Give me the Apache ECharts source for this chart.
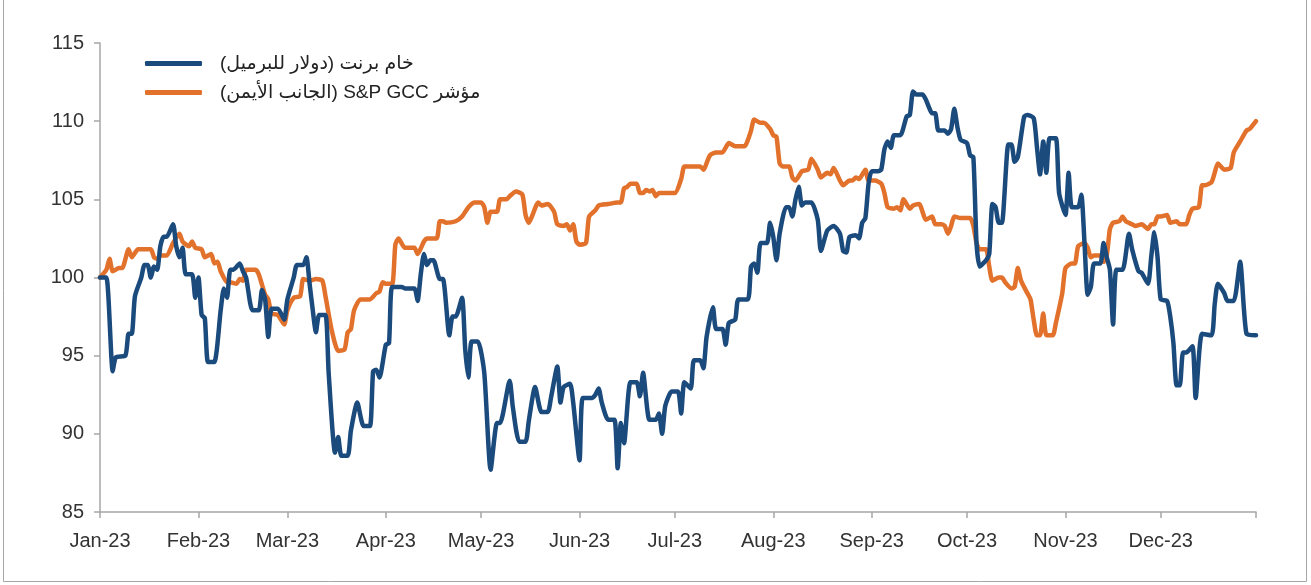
<!DOCTYPE html>
<html>
<head>
<meta charset="utf-8">
<script src="https://cdn.jsdelivr.net/npm/echarts@6/dist/echarts.min.js"></script>
<style>
html, body { margin: 0; padding: 0; background: #fff; }
#chart { width: 1311px; height: 585px; }
</style>
</head>
<body>
<div id="chart"></div>
<script>
// series names (Arabic, shown right-to-left)
var brentName = 'خام برنت (دولار للبرميل)';
var gccName = 'مؤشر S&P GCC (الجانب الأيمن)';

var monthLabels = ['Jan-23', 'Feb-23', 'Mar-23', 'Apr-23', 'May-23', 'Jun-23',
    'Jul-23', 'Aug-23', 'Sep-23', 'Oct-23', 'Nov-23', 'Dec-23'];

// day of 2023 (0 = 1 Jan) and rebased value
var brentDays = [0, 2, 4, 5, 8, 9, 10, 11, 13, 14, 15, 16, 17, 18, 19, 20, 21, 23, 24, 25, 26, 27, 29, 30, 31, 32, 33, 34, 36, 38,
    39, 40, 41, 42, 44, 45, 46, 48, 50, 51, 52, 53, 54, 56, 58, 59, 61, 62, 64, 65, 66, 67, 68, 69, 71, 72, 74, 75, 76, 78,
    79, 81, 83, 85, 86, 87, 88, 90, 91, 92, 95, 96, 99, 100, 101, 102, 103, 104, 105, 107, 108, 110, 111, 112, 114, 115, 116, 117, 119, 121,
    123, 125, 126, 129, 130, 132, 134, 135, 137, 139, 141, 142, 144, 145, 146, 148, 149, 151, 152, 155, 156, 157, 158, 160, 162, 163, 164, 165, 167, 169,
    170, 171, 173, 175, 176, 177, 178, 180, 182, 183, 184, 186, 187, 189, 190, 191, 193, 194, 196, 197, 198, 200, 201, 204, 205, 206, 207, 208, 210, 211,
    212, 213, 214, 216, 217, 218, 219, 220, 221, 222, 224, 226, 227, 229, 231, 233, 234, 235, 236, 238, 239, 240, 241, 242, 243, 245, 246, 247, 248, 249,
    250, 252, 254, 255, 256, 257, 259, 260, 261, 262, 263, 264, 266, 267, 268, 269, 270, 271, 273, 274, 275, 276, 277, 279, 280, 281, 282, 283, 284, 286,
    287, 288, 289, 291, 292, 294, 295, 296, 297, 298, 299, 301, 302, 304, 305, 306, 308, 309, 310, 311, 312, 313, 315, 316, 317, 318, 319, 320, 322, 324,
    325, 327, 328, 330, 331, 332, 333, 334, 336, 337, 338, 339, 340, 341, 342, 344, 345, 347, 350, 351, 352, 354, 355, 357, 359, 361, 364];
var brentValues = [100.0, 100.0, 94.0, 94.9, 95.0, 96.4, 96.4, 98.8, 100.0, 100.8, 100.8, 100.0, 100.7, 100.5, 102.0, 102.6, 102.6, 103.4, 102.0, 101.3, 101.9, 100.2, 100.2, 98.7, 100.0, 97.6, 97.4, 94.6, 94.6, 97.9,
    99.3, 98.7, 100.5, 100.5, 100.9, 100.4, 100.0, 97.9, 97.9, 99.2, 98.6, 96.2, 98.0, 98.0, 97.3, 98.6, 100.0, 100.8, 100.8, 101.3, 99.6, 97.9, 96.5, 97.6, 97.6, 93.9, 88.8, 89.8, 88.6, 88.6,
    90.2, 92.0, 90.5, 90.5, 94.0, 94.1, 93.6, 95.7, 95.8, 99.4, 99.4, 99.3, 99.3, 98.5, 100.2, 101.5, 100.8, 101.1, 101.1, 99.9, 99.9, 96.3, 97.5, 97.5, 98.7, 95.4, 93.6, 95.9, 95.9, 93.9,
    87.7, 90.7, 90.7, 93.4, 91.7, 89.5, 89.5, 90.8, 93.0, 91.4, 91.4, 92.3, 94.3, 92.0, 93.0, 93.2, 92.0, 88.3, 92.3, 92.3, 92.5, 92.9, 92.0, 90.9, 90.9, 87.8, 90.7, 89.4, 93.3, 93.3,
    92.4, 93.9, 90.9, 90.9, 91.3, 90.0, 91.8, 92.7, 92.7, 91.3, 93.3, 92.9, 94.7, 94.7, 94.2, 96.2, 98.1, 96.7, 96.7, 95.7, 97.1, 97.3, 98.6, 98.6, 100.7, 100.9, 100.3, 102.2, 102.2, 103.5,
    102.6, 101.1, 102.8, 104.5, 104.5, 103.9, 105.0, 105.8, 104.6, 104.8, 104.8, 103.7, 101.7, 103.0, 103.3, 102.8, 101.7, 101.6, 102.6, 102.7, 102.5, 103.5, 103.8, 106.0, 106.8, 106.8, 106.9, 108.2, 108.7, 108.3,
    109.1, 109.1, 110.3, 110.4, 111.9, 111.7, 111.7, 111.4, 110.9, 110.5, 110.5, 109.4, 109.4, 109.2, 109.5, 110.8, 109.6, 108.8, 108.6, 107.8, 107.7, 102.2, 100.7, 101.1, 101.5, 104.7, 104.5, 103.5, 103.5, 108.5,
    108.5, 107.4, 107.7, 110.3, 110.4, 110.2, 108.4, 106.6, 108.7, 106.7, 108.9, 108.9, 105.4, 104.0, 106.7, 104.5, 104.5, 105.3, 102.2, 98.9, 99.4, 100.9, 100.9, 102.2, 101.3, 100.5, 97.0, 100.5, 100.5, 102.8,
    101.8, 100.4, 100.3, 99.6, 101.3, 102.9, 101.3, 98.6, 98.5, 97.5, 95.8, 93.1, 93.1, 95.2, 95.2, 95.6, 92.3, 96.4, 96.3, 98.3, 99.6, 99.0, 98.5, 98.5, 101.0, 96.4, 96.3];

var gccDays = [0, 2, 3, 4, 6, 7, 9, 10, 12, 16, 17, 18, 19, 21, 23, 25, 26, 28, 29, 30, 32, 33, 35, 36, 37, 38, 40, 41, 43, 44,
    45, 46, 49, 50, 52, 53, 54, 56, 58, 59, 61, 63, 64, 66, 68, 70, 71, 73, 75, 77, 78, 79, 80, 82, 85, 87, 88, 89, 90, 92,
    93, 94, 96, 99, 100, 102, 103, 106, 107, 108, 109, 112, 114, 116, 118, 120, 121, 122, 123, 125, 126, 128, 129, 131, 133, 134, 135, 136, 138, 139,
    141, 143, 144, 146, 147, 148, 149, 150, 151, 153, 154, 156, 157, 160, 163, 164, 165, 166, 167, 169, 170, 171, 172, 173, 174, 175, 176, 181, 183, 184,
    186, 189, 190, 192, 194, 196, 197, 198, 200, 203, 204, 205, 206, 208, 209, 211, 212, 213, 214, 215, 217, 218, 219, 221, 223, 224, 226, 227, 229, 230,
    231, 233, 234, 236, 237, 238, 239, 241, 242, 244, 246, 247, 248, 250, 251, 252, 253, 255, 256, 258, 259, 260, 262, 263, 265, 266, 267, 268, 269, 271,
    274, 275, 276, 277, 279, 280, 281, 283, 284, 285, 287, 288, 289, 290, 292, 293, 294, 295, 296, 297, 298, 300, 301, 303, 304, 306, 307, 308, 310, 311,
    312, 313, 315, 316, 317, 318, 319, 321, 322, 323, 325, 326, 328, 330, 331, 332, 333, 334, 336, 337, 339, 340, 342, 343, 344, 346, 347, 348, 350, 351,
    352, 354, 356, 357, 359, 361, 362, 364];
var gccValues = [100.0, 100.5, 101.2, 100.4, 100.6, 100.6, 101.8, 101.3, 101.8, 101.8, 101.3, 101.2, 101.4, 101.4, 102.2, 102.8, 102.3, 102.0, 102.3, 101.9, 101.8, 101.3, 101.5, 100.9, 101.0, 100.4, 99.7, 99.7, 99.6, 99.9,
    99.8, 100.5, 100.5, 100.2, 98.9, 98.6, 97.7, 97.6, 97.0, 97.9, 98.7, 98.8, 99.9, 99.8, 99.9, 99.8, 98.8, 96.6, 95.3, 95.4, 96.5, 96.7, 97.9, 98.6, 98.6, 99.0, 99.1, 99.7, 99.6, 99.6,
    102.1, 102.5, 101.9, 101.9, 101.5, 102.3, 102.5, 102.5, 103.6, 103.6, 103.5, 103.6, 103.9, 104.5, 104.8, 104.8, 104.5, 103.5, 104.2, 104.2, 105.0, 105.0, 105.2, 105.5, 105.3, 104.0, 103.5, 103.9, 104.8, 104.6,
    104.7, 104.2, 103.4, 103.3, 103.4, 103.0, 103.4, 102.3, 102.1, 102.2, 103.9, 104.3, 104.6, 104.7, 104.8, 104.8, 105.7, 105.8, 106.0, 106.0, 105.4, 105.4, 105.6, 105.5, 105.6, 105.2, 105.4, 105.4, 106.3, 107.1,
    107.1, 107.1, 106.9, 107.8, 108.0, 108.0, 108.3, 108.6, 108.4, 108.4, 108.8, 109.4, 110.1, 109.9, 109.9, 109.5, 109.1, 109.0, 107.3, 107.1, 107.1, 106.4, 106.2, 106.8, 106.9, 107.6, 106.9, 106.4, 106.7, 106.6,
    107.0, 106.2, 105.9, 106.2, 106.2, 106.4, 106.3, 106.9, 106.2, 106.2, 106.0, 105.4, 104.5, 104.4, 104.5, 104.3, 105.0, 104.4, 104.6, 104.7, 104.2, 103.7, 103.9, 103.4, 103.4, 103.3, 102.8, 103.3, 103.9, 103.8,
    103.8, 103.3, 102.2, 101.8, 101.8, 100.7, 99.8, 100.0, 100.0, 99.7, 99.3, 99.4, 100.6, 99.8, 99.0, 98.6, 97.3, 96.3, 96.3, 97.7, 96.3, 96.3, 97.1, 99.0, 100.6, 100.9, 100.9, 102.0, 102.2, 101.9,
    101.3, 101.4, 101.4, 101.0, 101.4, 103.1, 103.5, 103.6, 103.9, 103.6, 103.4, 103.3, 103.4, 103.1, 103.4, 103.4, 103.9, 103.9, 104.0, 103.5, 103.6, 103.4, 103.4, 104.0, 104.4, 104.5, 105.9, 105.9, 106.1, 106.7,
    107.3, 106.9, 107.0, 108.0, 108.7, 109.4, 109.5, 110.0];

var brentColor = '#1b4a7d';
var gccColor = '#e2712c';
var fontFamily = "'Liberation Sans', 'DejaVu Sans', sans-serif";

// wrap Arabic names in a right-to-left embedding so brackets sit correctly on canvas
function rtl(s) { return '\u202B' + s + '\u202C'; }
function toPairs(days, values) {
    return days.map(function (d, i) { return [d, values[i]]; });
}

// day number of each month start in 2023, plus the last day for the closing tick
var dayMs = 86400000;
var monthStartDays = monthLabels.map(function (m, i) {
    return Math.round((new Date(2023, i, 1) - new Date(2023, 0, 1)) / dayMs);
});
var lastDay = 364;

var myChart = echarts.init(document.getElementById('chart'));

var option = {
    animation: false,
    grid: { left: 100, right: 55, top: 43, bottom: 73 },
    graphic: [{
        type: 'rect',
        silent: true,
        shape: { x: 3.5, y: -2, width: 1303, height: 583.5 },
        style: { fill: 'none', stroke: '#a6a6a6', lineWidth: 1 }
    }],
    legend: {
        orient: 'vertical',
        left: 140,
        top: 49,
        itemWidth: 57,
        itemHeight: 5,
        itemGap: 10,
        icon: 'roundRect',
        textStyle: { fontSize: 19, color: '#222', fontFamily: fontFamily, padding: [0, 0, 0, 13] },
        data: [rtl(brentName), rtl(gccName)]
    },
    xAxis: {
        type: 'value',
        min: 0,
        max: lastDay,
        axisLine: { lineStyle: { color: '#a6a6a6', width: 1.5 } },
        axisTick: {
            show: true,
            length: 6,
            customValues: monthStartDays.concat([lastDay]),
            lineStyle: { color: '#a6a6a6', width: 1.5 }
        },
        axisLabel: {
            customValues: monthStartDays,
            formatter: function (v) { return monthLabels[monthStartDays.indexOf(v)] || ''; },
            margin: 19,
            fontSize: 20,
            color: '#333',
            fontFamily: fontFamily
        },
        splitLine: { show: false }
    },
    yAxis: {
        type: 'value',
        min: 85,
        max: 115,
        interval: 5,
        axisLine: { show: true, lineStyle: { color: '#a6a6a6', width: 1.5 } },
        axisTick: { show: true, length: 6, lineStyle: { color: '#a6a6a6', width: 1.5 } },
        axisLabel: { margin: 16, fontSize: 20, color: '#333', fontFamily: fontFamily },
        splitLine: { show: false }
    },
    series: [
        {
            name: rtl(brentName),
            type: 'line',
            data: toPairs(brentDays, brentValues),
            showSymbol: false,
            smooth: 0.2,
            itemStyle: { color: brentColor },
            lineStyle: { color: brentColor, width: 4.5, cap: 'round', join: 'round' },
            z: 3
        },
        {
            name: rtl(gccName),
            type: 'line',
            data: toPairs(gccDays, gccValues),
            showSymbol: false,
            smooth: 0.2,
            itemStyle: { color: gccColor },
            lineStyle: { color: gccColor, width: 4.5, cap: 'round', join: 'round' },
            z: 2
        }
    ]
};

myChart.setOption(option);
</script>
</body>
</html>
